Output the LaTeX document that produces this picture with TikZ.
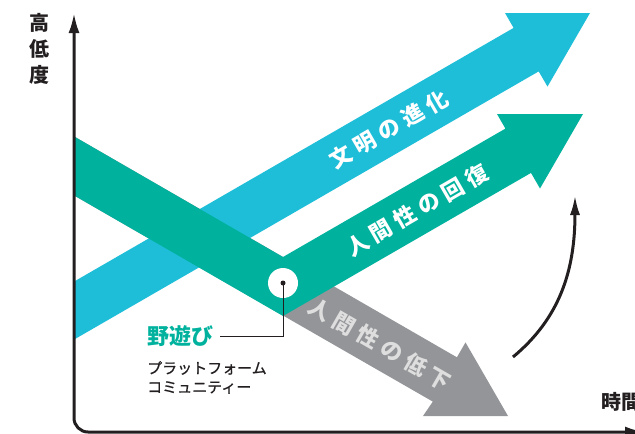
\documentclass[tikz,border=0pt]{standalone}
\usepackage{fontspec}
\newfontfamily\jp{Noto Sans CJK JP}
\newfontfamily\jpmid[FakeBold=1]{Noto Sans CJK JP}
\newfontfamily\jpband[LetterSpace=25]{Noto Sans CJK JP}
\usetikzlibrary{arrows.meta}
\definecolor{civil}{RGB}{30,190,217}
\definecolor{human}{RGB}{0,178,157}
\definecolor{fall}{RGB}{147,149,152}
\definecolor{pale}{RGB}{222,222,222}
\definecolor{ink}{RGB}{35,31,32}
\tikzset{
  axisline/.style={line width=3pt, ink},
  axislabel/.style={font=\jp\bfseries\fontsize{20}{26}\selectfont, text=ink, inner sep=0pt},
  bandlabel/.style={font=\jpband\bfseries\fontsize{22}{22}\selectfont, text=white, inner sep=0pt},
}
\begin{document}
\begin{tikzpicture}[x=1pt,y=-1pt]
  \useasboundingbox (0,0) rectangle (635,434);
  \clip (0,0) rectangle (635,434);
  \fill[fall] (74,136.4) -- (456.9,357.3) -- (465.5,342.4) -- (508,416) -- (423,416) -- (432.8,401.6) -- (74,195.4) -- cycle;
  \fill[civil] (74,281.6) -- (513.6,27.9) -- (505,13) -- (590,13) -- (547.5,86.6) -- (538.7,71.4) -- (74,339.6) -- cycle;
  \fill[human] (74,136.4) -- (283,257) -- (505.4,128.6) -- (497,114) -- (583,114) -- (540,188.5) -- (531,172.9) -- (283,316) -- (74,195.4) -- cycle;
  \node[bandlabel, rotate=30] (civ) at (389,129) {文明の進化};
  \node[bandlabel, rotate=30] (rec) at (417,210) {人間性の回復};
  \node[bandlabel, rotate=-30, text=pale] (dec) at (380,344) {人間性の低下};
  \node[circle, fill=white, minimum size=30pt, inner sep=0pt] (spot) at (283,283) {};
  \node[circle, fill=ink, minimum size=5pt, inner sep=0pt] (dot) at (spot) {};
  \node[font=\jp\bfseries\fontsize{22}{22}\selectfont, text=human, anchor=west, inner sep=0pt] (play) at (147,336) {野遊び};
  \node[font=\jpmid\fontsize{15}{19}\selectfont, text=ink, anchor=north west, align=left, inner sep=0pt] (plat) at (147,361) {プラットフォーム\\コミュニティー};
  \draw[ink, line width=1pt] ([xshift=7pt]play.east) -| (dot.center);
  \draw[axisline, {Latex[length=20pt,width=11pt]}-{Latex[length=20pt,width=11pt]}, rounded corners=14pt] (74,13) -- (74,432) -- (645,432);
  \node[axislabel, align=center] (ylab) at (40,49) {高\\低\\度};
  \node[axislabel, anchor=west] (xlab) at (601,402) {時間};
  \draw[axisline, -{Latex[length=20pt,width=10pt]}] (513,357) .. controls (560,318) and (575,270) .. (575,195);
\end{tikzpicture}
\end{document}
